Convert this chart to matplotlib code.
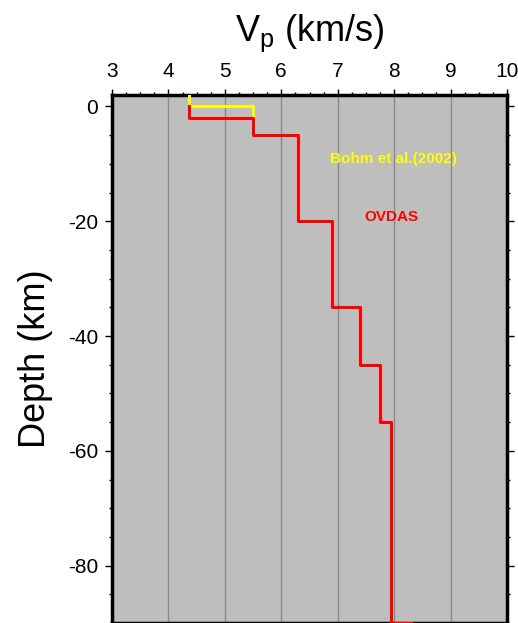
import numpy as np
import matplotlib
matplotlib.use('Agg')
import matplotlib.pyplot as plt
from matplotlib.ticker import MultipleLocator

plt.rcParams['font.family'] = ['Liberation Sans', 'DejaVu Sans']
plt.rcParams['axes.unicode_minus'] = False

# Bohm et al. (2002) model, top layers
bohm_vp = [4.37, 4.37, 5.5, 5.5, 5.5]
bohm_z = [2, 0, 0, -2, -5]

# OVDAS step model
ovdas_vp = [4.37, 4.37, 5.5, 5.5, 6.3, 6.3, 6.9, 6.9, 7.4, 7.4, 7.75, 7.75, 7.95, 7.95, 8.3]
ovdas_z = [0, -2, -2, -5, -5, -20, -20, -35, -35, -45, -45, -55, -55, -90, -90]

fig = plt.figure(figsize=(5.18, 6.23), dpi=100)
ax = fig.add_axes([112 / 518, 0.0, (507 - 112) / 518, (623 - 95) / 623])
ax.set_facecolor('#bebebe')

for xv in range(4, 10):
    ax.axvline(xv, color='#8a8a8a', lw=1.0, zorder=1)

ax.plot(bohm_vp, bohm_z, color='#ffff00', lw=2.2, zorder=3)
ax.plot(ovdas_vp, ovdas_z, color='#ff0000', lw=2.2, zorder=4)

ax.text(7.98, -9.1, 'Bohm et al.(2002)', color='#ffff00', fontsize=11,
        fontweight='bold', ha='center', va='center')
ax.text(7.95, -19.3, 'OVDAS', color='#ff0000', fontsize=11,
        fontweight='bold', ha='center', va='center')

ax.set_xlim(3, 10)
ax.set_ylim(-90, 2)
ax.xaxis.set_major_locator(MultipleLocator(1))
ax.xaxis.set_minor_locator(MultipleLocator(0.25))
ax.yaxis.set_major_locator(MultipleLocator(20))
ax.yaxis.set_minor_locator(MultipleLocator(5))
ax.tick_params(axis='x', which='both', top=True, bottom=True,
               labeltop=True, labelbottom=False, direction='out')
ax.tick_params(axis='y', which='both', left=True, right=True,
               labelleft=True, labelright=False, direction='out')
ax.tick_params(axis='x', which='major', length=4, width=1, labelsize=15, pad=6)
ax.tick_params(axis='y', which='major', length=5, width=1, labelsize=15, pad=5)
ax.tick_params(which='minor', length=2.2, width=1)
for s in ax.spines.values():
    s.set_linewidth(2.5)

ax.set_xlabel('V$_\\mathregular{p}$ (km/s)', fontsize=26, labelpad=15)
ax.xaxis.set_label_position('top')
ax.set_ylabel('Depth (km)', fontsize=26, labelpad=11)

fig.savefig('out.png', dpi=100)
